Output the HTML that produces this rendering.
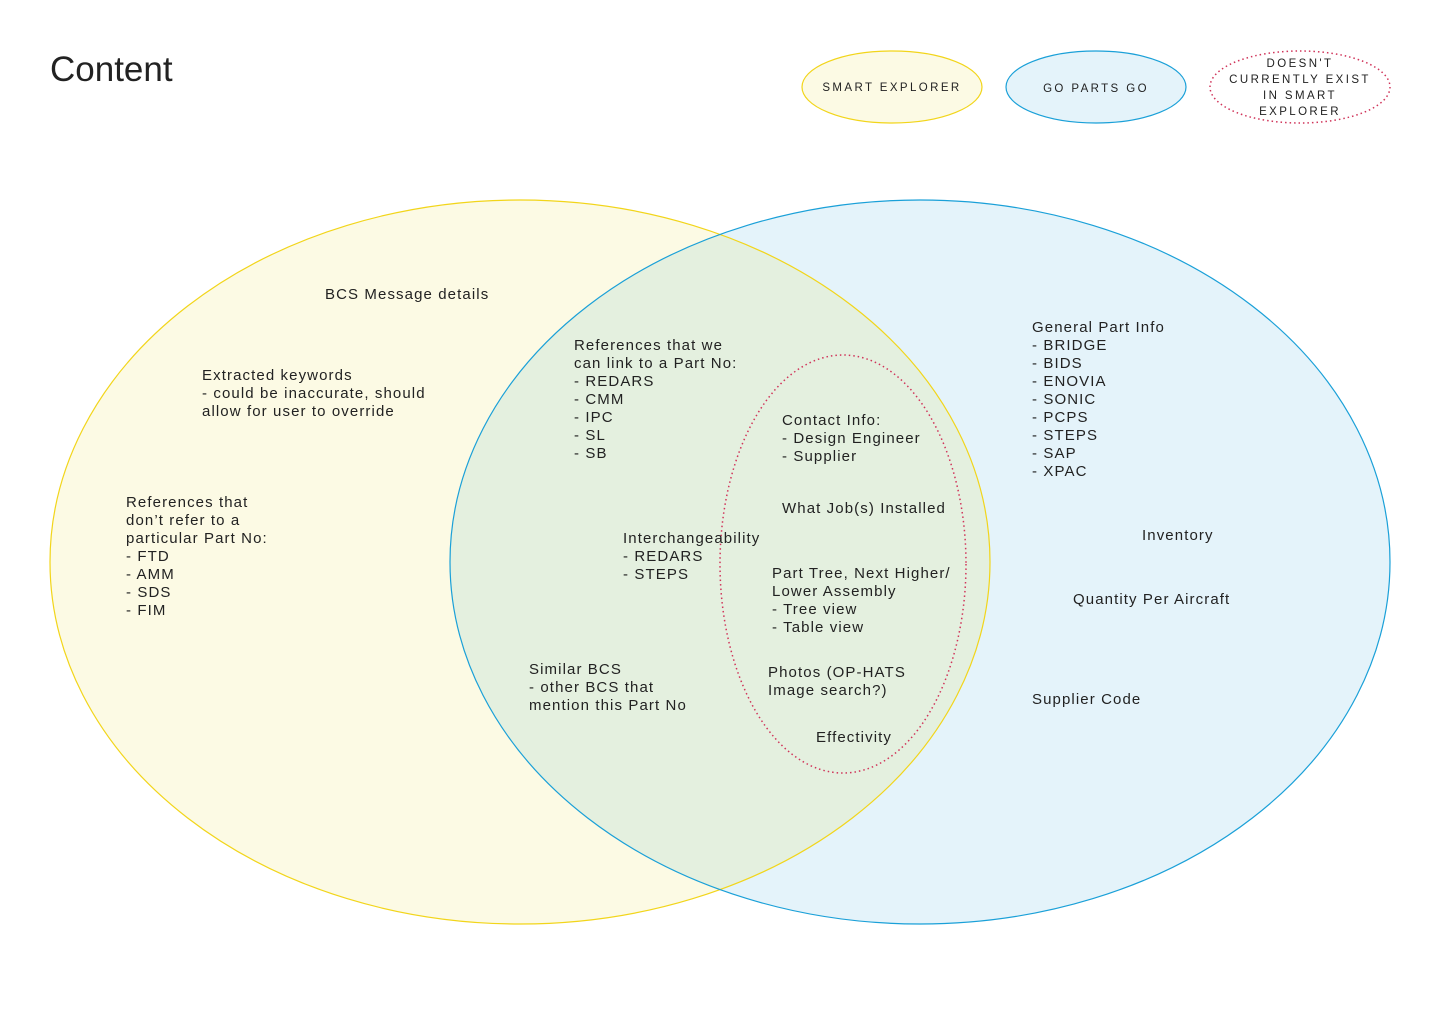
<!DOCTYPE html>
<html><head><meta charset="utf-8"><style>
html,body{margin:0;padding:0;background:#fff;}
svg{display:block;}
text{font-family:"Liberation Sans",Arial,sans-serif;fill:#222;}
.t{font-size:15px;letter-spacing:1.1px;}
.l{font-size:11.5px;letter-spacing:2.4px;}
</style></head><body>
<svg width="1440" height="1024" viewBox="0 0 1440 1024" xmlns="http://www.w3.org/2000/svg">
<defs><clipPath id="cy"><ellipse cx="520" cy="562" rx="470" ry="362"/></clipPath></defs>
<text x="50" y="81" style="font-size:35px;fill:#222">Content</text>
<ellipse cx="892" cy="87" rx="90" ry="36" fill="#fcfae4" stroke="#f2d51a" stroke-width="1.2"/>
<ellipse cx="1096" cy="87" rx="90" ry="36" fill="#e4f3fa" stroke="#1aa0d8" stroke-width="1.2"/>
<ellipse cx="1300" cy="87" rx="90" ry="36" fill="#fff" stroke="#d0345a" stroke-width="1.5" stroke-dasharray="1.5,3"/>
<text class="l" x="892" y="91" text-anchor="middle">SMART EXPLORER</text>
<text class="l" x="1096" y="92" text-anchor="middle">GO PARTS GO</text>
<text class="l" x="1300" text-anchor="middle"><tspan x="1300" y="67">DOESN'T</tspan><tspan x="1300" y="83">CURRENTLY EXIST</tspan><tspan x="1300" y="99">IN SMART</tspan><tspan x="1300" y="115">EXPLORER</tspan></text>

<ellipse cx="520" cy="562" rx="470" ry="362" fill="#fcfae4"/>
<ellipse cx="920" cy="562" rx="470" ry="362" fill="#e4f3fa"/>
<ellipse cx="920" cy="562" rx="470" ry="362" fill="#e4f0df" clip-path="url(#cy)"/>
<ellipse cx="520" cy="562" rx="470" ry="362" fill="none" stroke="#f2d51a" stroke-width="1.2"/>
<ellipse cx="920" cy="562" rx="470" ry="362" fill="none" stroke="#1aa0d8" stroke-width="1.2"/>
<ellipse cx="843" cy="564" rx="123" ry="209" fill="none" stroke="#d0345a" stroke-width="1.5" stroke-dasharray="1.5,3"/>

<g class="t">
<text x="325" y="299">BCS Message details</text>
<text><tspan x="202" y="380">Extracted keywords</tspan><tspan x="202" y="398">- could be inaccurate, should</tspan><tspan x="202" y="416">allow for user to override</tspan></text>
<text><tspan x="126" y="507">References that</tspan><tspan x="126" y="525">don’t refer to a</tspan><tspan x="126" y="543">particular Part No:</tspan><tspan x="126" y="561">- FTD</tspan><tspan x="126" y="579">- AMM</tspan><tspan x="126" y="597">- SDS</tspan><tspan x="126" y="615">- FIM</tspan></text>
<text><tspan x="574" y="350">References that we</tspan><tspan x="574" y="368">can link to a Part No:</tspan><tspan x="574" y="386">- REDARS</tspan><tspan x="574" y="404">- CMM</tspan><tspan x="574" y="422">- IPC</tspan><tspan x="574" y="440">- SL</tspan><tspan x="574" y="458">- SB</tspan></text>
<text><tspan x="623" y="543">Interchangeability</tspan><tspan x="623" y="561">- REDARS</tspan><tspan x="623" y="579">- STEPS</tspan></text>
<text><tspan x="529" y="674">Similar BCS</tspan><tspan x="529" y="692">- other BCS that</tspan><tspan x="529" y="710">mention this Part No</tspan></text>
<text><tspan x="782" y="425">Contact Info:</tspan><tspan x="782" y="443">- Design Engineer</tspan><tspan x="782" y="461">- Supplier</tspan></text>
<text x="782" y="513">What Job(s) Installed</text>
<text><tspan x="772" y="578">Part Tree, Next Higher/</tspan><tspan x="772" y="596">Lower Assembly</tspan><tspan x="772" y="614">- Tree view</tspan><tspan x="772" y="632">- Table view</tspan></text>
<text><tspan x="768" y="677">Photos (OP-HATS</tspan><tspan x="768" y="695">Image search?)</tspan></text>
<text x="816" y="742">Effectivity</text>
<text><tspan x="1032" y="332">General Part Info</tspan><tspan x="1032" y="350">- BRIDGE</tspan><tspan x="1032" y="368">- BIDS</tspan><tspan x="1032" y="386">- ENOVIA</tspan><tspan x="1032" y="404">- SONIC</tspan><tspan x="1032" y="422">- PCPS</tspan><tspan x="1032" y="440">- STEPS</tspan><tspan x="1032" y="458">- SAP</tspan><tspan x="1032" y="476">- XPAC</tspan></text>
<text x="1142" y="540">Inventory</text>
<text x="1073" y="604">Quantity Per Aircraft</text>
<text x="1032" y="704">Supplier Code</text>
</g>
</svg>
</body></html>
